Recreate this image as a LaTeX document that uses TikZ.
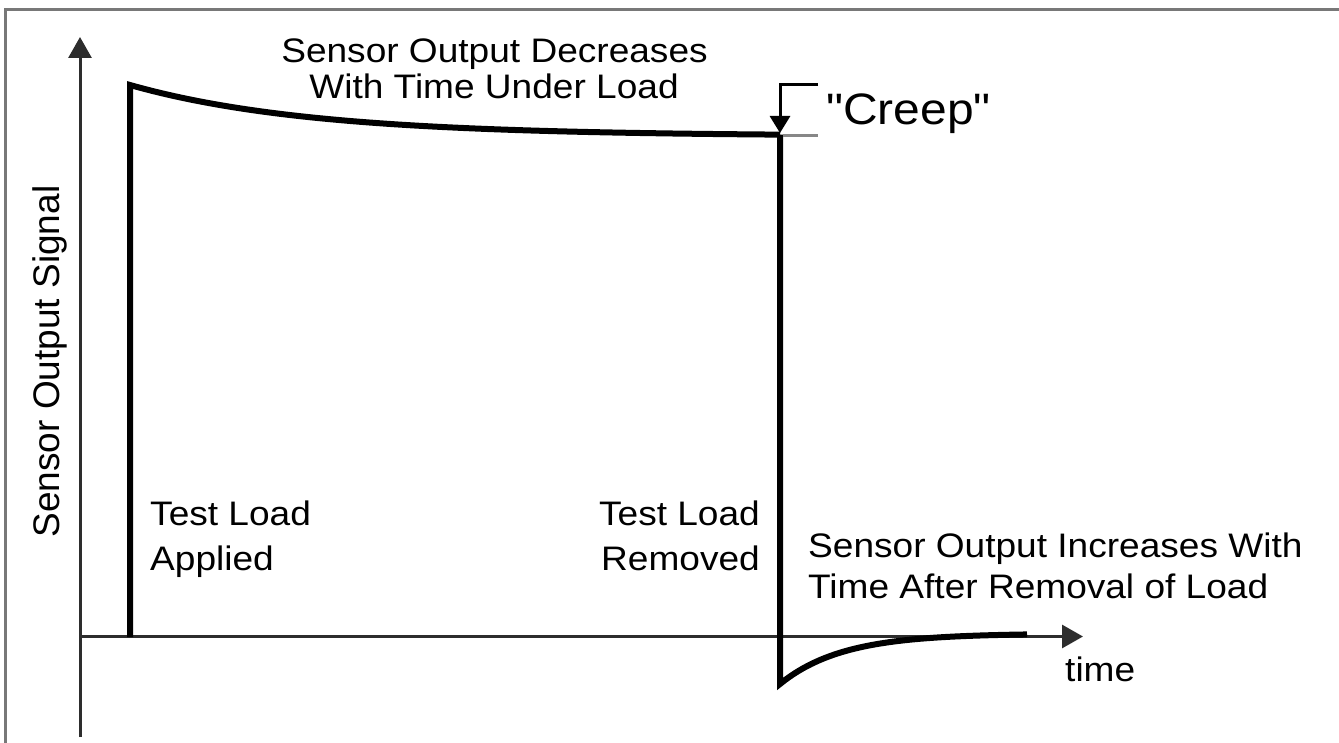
\documentclass[tikz,border=0pt]{standalone}
\usepackage{fontspec}
\setmainfont{Liberation Sans}[FakeStretch=1.09]
\newfontfamily\rotfont{Liberation Sans}
\newfontfamily\creepfont{Liberation Sans}[FakeStretch=1.09,Ligatures=TeXOff]
\usetikzlibrary{arrows.meta}
\definecolor{axisgray}{RGB}{45,45,45}
\definecolor{framegray}{RGB}{120,120,120}
\definecolor{refgray}{RGB}{135,135,135}
\begin{document}
\begin{tikzpicture}[x=1pt,y=-1pt,
  lbl/.style={inner sep=0pt, font=\fontsize{34}{40}\selectfont},
  rotlbl/.style={inner sep=0pt, font=\rotfont\fontsize{37}{44}\selectfont, rotate=90},
  creeplbl/.style={inner sep=0pt, font=\creepfont\fontsize{44}{50}\selectfont},
  axisline/.style={line width=3pt, draw=axisgray, -{Triangle[length=21pt,width=23pt]}},
  frameline/.style={line width=3pt, draw=framegray},
  signal/.style={line width=6pt, draw=black, line join=miter},
  bracket/.style={line width=3pt, draw=black, -{Triangle[length=17pt,width=20pt]}},
  refline/.style={line width=3pt, draw=refgray}
]
\useasboundingbox (0,0) rectangle (1339,743);
\fill[white] (0,0) rectangle (1339,743);

% frame (top and left edges)
\coordinate (f1) at (5.5,743);
\coordinate (f2) at (5.5,9.5);
\coordinate (f3) at (1339,9.5);
\draw[frameline] (f1) -- (f2) -- (f3);

% axes
\coordinate (ybot) at (80,737);
\coordinate (ytip) at (80,37);
\coordinate (xorig) at (80,636.5);
\coordinate (xtip) at (1083,636.5);
\draw[axisline] (ybot) -- (ytip);
\draw[axisline] (xorig) -- (xtip);

% signal
\coordinate (s0) at (130,637);
\coordinate (s1) at (130,85);
\coordinate (s2) at (780,134.6);
\coordinate (s3) at (780,684);
\draw[signal] (s0) -- (s1)
  -- plot[domain=130:780,samples=120] (\x,{136-51*exp(-(\x-130)/180)})
  -- (s2) -- (s3)
  -- plot[domain=780:1027,samples=80] (\x,{633.5+50.5*exp(-(\x-780)/62)});

% creep bracket
\coordinate (c1) at (818,85);
\coordinate (c2) at (780,85);
\coordinate (c3) at (780,133);
\coordinate (g1) at (783,135.5);
\coordinate (g2) at (818,135.5);
\draw[refline] (g1) -- (g2);
\draw[bracket] (c1) -- (c2) -- (c3);
\node[creeplbl, anchor=base west] (creep) at (826,125) {"Creep"};

% labels
\node[lbl, anchor=base] (t1) at (494.5,63) {Sensor Output Decreases};
\node[lbl, anchor=base] (t2) at (494,99) {With Time Under Load};
\node[rotlbl, anchor=base] (ylab) at (59,361.5) {Sensor Output Signal};
\node[lbl, anchor=base west] (a1) at (150,525) {Test Load};
\node[lbl, anchor=base west] (a2) at (150,570) {Applied};
\node[lbl, anchor=base east] (r1) at (760,525) {Test Load};
\node[lbl, anchor=base east] (r2) at (760,570) {Removed};
\node[lbl, anchor=base west] (i1) at (808,557) {Sensor Output Increases With};
\node[lbl, anchor=base west] (i2) at (808,598) {Time After Removal of Load};
\node[lbl, anchor=base west] (tm) at (1065,681) {time};
\end{tikzpicture}
\end{document}
